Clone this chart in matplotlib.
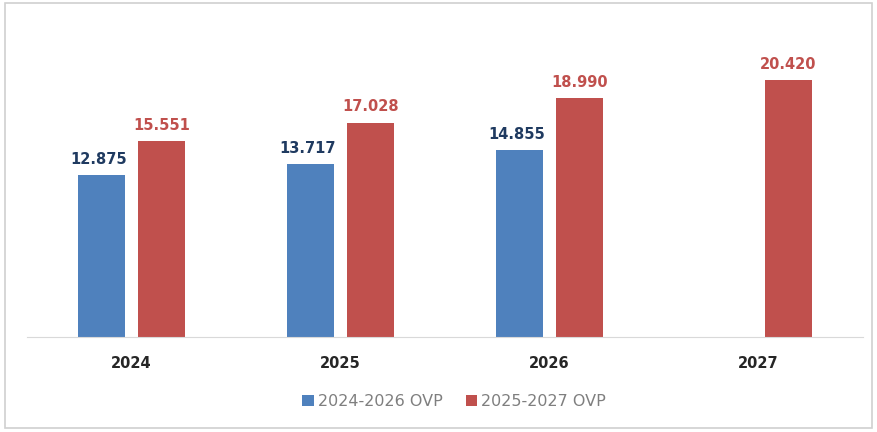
import numpy as np
import matplotlib
matplotlib.use("Agg")
import matplotlib.pyplot as plt
from matplotlib.patches import Rectangle

# chart values
years = ["2024", "2025", "2026", "2027"]
ovp_2024_2026 = [12.875, 13.717, 14.855, np.nan]
ovp_2025_2027 = [15.551, 17.028, 18.990, 20.420]
series_names = ["2024-2026 OVP", "2025-2027 OVP"]

blue = "#4F81BD"
red = "#C0504D"

plt.rcParams["font.family"] = ["DejaVu Sans"]

fig = plt.figure(figsize=(8.77, 4.32), dpi=100)
ax = fig.add_axes([0.031, 0.22, 0.953, 0.699])

x = np.arange(len(years))
w = 0.225
off = 0.1435
b1 = ax.bar(x - off, ovp_2024_2026, w, color=blue, label=series_names[0])
b2 = ax.bar(x + off, ovp_2025_2027, w, color=red, label=series_names[1])

def fmt(v):
    return "%.3f" % v

for rect, v in zip(b1, ovp_2024_2026):
    if np.isnan(v):
        continue
    ax.annotate(fmt(v), (rect.get_x() + rect.get_width() / 2, v),
                xytext=(-2, 6), textcoords="offset points", ha="center", va="bottom",
                fontsize=10.5, fontweight="bold", color="#1F3A60")
for rect, v in zip(b2, ovp_2025_2027):
    ax.annotate(fmt(v), (rect.get_x() + rect.get_width() / 2, v),
                xytext=(0, 6), textcoords="offset points", ha="center", va="bottom",
                fontsize=10.5, fontweight="bold", color=red)

ax.set_xlim(-0.5, 3.5)
ax.set_ylim(0, 24)
ax.set_xticks(x)
ax.set_xticklabels(years, fontsize=10.5, fontweight="bold", color="#262626")
ax.tick_params(axis="x", length=0, pad=14)
ax.set_yticks([])
for s in ["top", "right", "left"]:
    ax.spines[s].set_visible(False)
ax.spines["bottom"].set_color("#D9D9D9")

fig.legend(loc="center", bbox_to_anchor=(0.518, 0.07), ncol=2, frameon=False,
           handlelength=0.7, handleheight=0.7, handletextpad=0.25, columnspacing=1.5,
           prop={"size": 11.5}, labelcolor="#7F7F7F")

# outer frame
fig.patches.append(Rectangle((5 / 877, 4 / 432), 867 / 877, 425 / 432,
                             transform=fig.transFigure, fill=False,
                             edgecolor="#D0D0D0", linewidth=1.2))

fig.savefig("out.png", dpi=100)
